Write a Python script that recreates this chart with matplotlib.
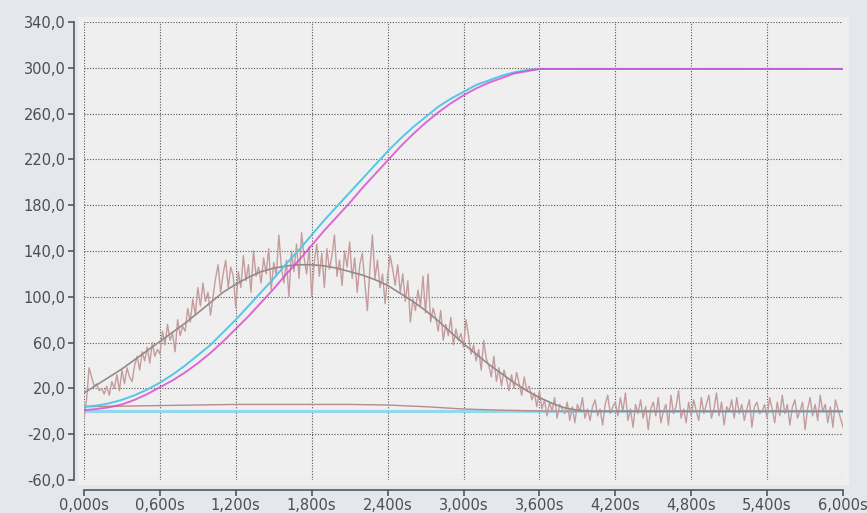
import numpy as np
import matplotlib
matplotlib.use("Agg")
import matplotlib.pyplot as plt
from matplotlib.patches import Rectangle
from matplotlib.ticker import FuncFormatter

plt.rcParams["font.family"] = ["DejaVu Sans"]

# Sampled signals (time in seconds)
# Position set-point and actual position, sampled every 0.1 s
pos_setpoint = [4, 5, 7, 10, 14, 19, 25, 32, 40, 49,
                58, 69, 80, 92, 104, 116, 129, 141, 154, 167,
                179, 191, 203, 215, 227, 238, 248, 257, 266, 273,
                279, 285, 289, 293, 296, 298, 299, 299, 299, 299,
                299, 299, 299, 299, 299, 299, 299, 299, 299, 299,
                299, 299, 299, 299, 299, 299, 299, 299, 299, 299, 299]
pos_actual = [1, 2, 3.5, 6, 10, 15, 21, 27, 34, 42,
              51, 61, 72, 83, 95, 107, 120, 132, 145, 158,
              170, 182, 195, 207, 219, 231, 242, 252, 261, 269,
              276, 282, 287, 291, 295, 297, 299, 299, 299, 299,
              299, 299, 299, 299, 299, 299, 299, 299, 299, 299,
              299, 299, 299, 299, 299, 299, 299, 299, 299, 299, 299]
# Filtered velocity, every 0.1 s
vel_filtered = [16, 23, 30, 37, 45, 53, 61, 69, 77, 86,
                95, 104, 111, 117, 122, 125, 127, 128, 128, 127,
                125, 122, 119, 115, 110, 103, 96, 88, 79, 69,
                59, 50, 41, 33, 25, 18, 12, 7, 3, 1,
                0, 0, 0, 0, 0, 0, 0, 0, 0, 0,
                0, 0, 0, 0, 0, 0, 0, 0, 0, 0, 0]
# Raw velocity, every 0.02 s
vel_raw = [
    -6, 10, 38, 30, 22, 24, 18, 20, 15, 22,
    14, 26, 20, 32, 18, 36, 24, 38, 30, 26,
    40, 48, 36, 52, 44, 56, 42, 60, 48, 54,
    50, 70, 58, 76, 62, 68, 52, 80, 66, 74,
    70, 90, 78, 98, 84, 108, 92, 112, 96, 104,
    84, 100, 116, 128, 104, 120, 132, 108, 126, 118,
    90, 122, 108, 136, 114, 128, 104, 140, 118, 126,
    112, 134, 120, 142, 106, 130, 118, 154, 126, 112,
    132, 100, 140, 122, 146, 116, 156, 134, 120, 144,
    100, 130, 146, 118, 138, 108, 142, 124, 136, 154,
    118, 132, 110, 140, 126, 148, 116, 134, 104, 128,
    138, 112, 88, 124, 154, 116, 132, 108, 120, 94,
    118, 136, 124, 110, 128, 104, 120, 96, 114, 78,
    98, 88, 106, 92, 118, 86, 120, 78, 90, 82,
    70, 88, 62, 76, 66, 82, 58, 72, 62, 68,
    56, 80, 66, 50, 58, 44, 54, 36, 62, 46,
    40, 30, 48, 26, 38, 22, 36, 28, 18, 32,
    20, 34, 24, 14, 30, 18, 22, 10, 16, 4,
    18, 2, 10, -4, 8, 0, 12, -6, 6, 2,
    -2, 8, -8, 4, -10, 6, 0, 12, -6, 2,
    -8, 4, 10, -4, 2, -12, 6, 14, -2, 4,
    8, -4, 12, 0, 16, -8, 2, -14, 6, -2,
    10, -6, 4, -16, 2, 8, -4, 12, -10, 0,
    6, -12, 14, -2, 4, 18, -6, 2, -10, 8,
    -4, 10, 0, -8, 12, -2, 6, 14, -6, 2,
    16, -4, 8, -12, 4, 0, 10, -6, 12, -2,
    6, -8, 2, 10, -14, 4, 8, -2, 0, 6,
    -6, 12, 2, -10, 8, -4, 14, -2, 6, -12,
    4, 10, -6, 0, 8, -16, 2, 12, -4, 6,
    -8, 14, 0, 6, -10, 4, -14, 10, 2, -6,
    -14]
# Following error, every 0.3 s
follow_err = [4, 4.5, 5, 5.5, 6, 6, 6, 6, 5.5, 4,
              2, 1, 0.3, 0, 0, 0, 0, 0, 0, 0, 0]
# Torque reference (idle)
torque_t = [0.0, 6.0]
torque = [0, 0]

x_ticks = [0.0, 0.6, 1.2, 1.8, 2.4, 3.0, 3.6, 4.2, 4.8, 5.4, 6.0]
y_ticks = [-60, -20, 20, 60, 100, 140, 180, 220, 260, 300, 340]

t_fine = np.linspace(0, 6, len(vel_raw))
t_mid = np.linspace(0, 6, len(pos_setpoint))
t_coarse = np.linspace(0, 6, len(follow_err))

W, H = 867, 513
fig = plt.figure(figsize=(W / 100, H / 100), dpi=100)
fig.patch.set_facecolor("#e4e7eb")

# light panel behind the plotting area
fig.patches.append(Rectangle((78 / W, 1 - 485 / H), (849 - 78) / W, (485 - 17) / H,
                             transform=fig.transFigure, facecolor="#efefef",
                             edgecolor="none", zorder=0))

ax = fig.add_axes([84 / W, 1 - 480 / H, (843 - 84) / W, (480 - 22) / H])
ax.set_zorder(2)
ax.patch.set_alpha(0)

ax.plot(torque_t, torque, color="#93d8ec", lw=2.2, zorder=2)
ax.plot(t_coarse, follow_err, color="#b88a88", lw=1.0, zorder=3)
ax.plot(t_fine, vel_raw, color="#c49c9e", lw=1.0, zorder=4)
ax.plot(t_mid, vel_filtered, color="#968a88", lw=1.2, zorder=5)
ax.plot(t_mid, pos_setpoint, color="#55c6e4", lw=1.4, zorder=6)
ax.plot(t_mid, pos_actual, color="#d848cc", lw=1.4, alpha=0.8, zorder=7)

ax.set_xlim(0, 6)
ax.set_ylim(-60, 340)
ax.set_xticks(x_ticks)
ax.set_yticks(y_ticks)
ax.xaxis.set_major_formatter(FuncFormatter(lambda v, p: f"{v:.3f}s".replace(".", ",")))
ax.yaxis.set_major_formatter(FuncFormatter(lambda v, p: f"{v:.1f}".replace(".", ",")))

ax.grid(True, color="#555555", linestyle=(0, (1, 1.5)), linewidth=0.8, zorder=1)
ax.set_axisbelow(True)

for side in ("top", "right"):
    ax.spines[side].set_visible(False)
for side in ("left", "bottom"):
    ax.spines[side].set_position(("outward", 7.2))
    ax.spines[side].set_color("#4e5862")
    ax.spines[side].set_linewidth(1.2)

ax.tick_params(axis="both", colors="#4e5862", length=4, width=1.2,
               labelsize=10.5, labelcolor="#4a4f55", pad=2)

fig.savefig("out.png", dpi=100, facecolor=fig.get_facecolor())
